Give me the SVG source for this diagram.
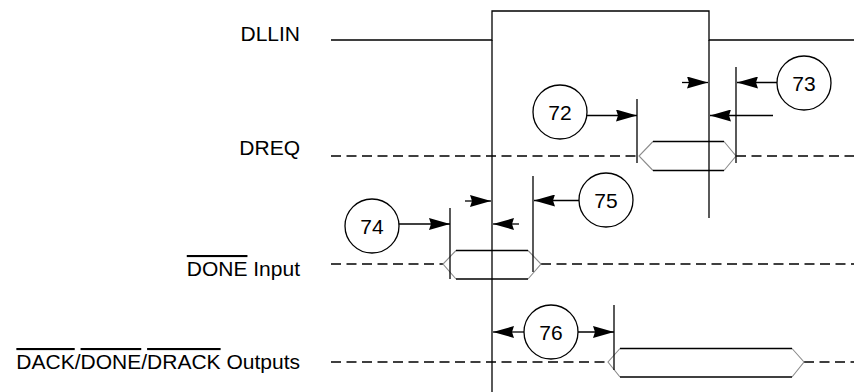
<svg xmlns="http://www.w3.org/2000/svg" width="854" height="392" viewBox="0 0 854 392">
<style>
.s{fill:none;stroke:#000;stroke-width:1.3}
.d{fill:none;stroke:#000;stroke-width:1.5;stroke-dasharray:10 5.5}
.g{fill:none;stroke:#8c8c8c;stroke-width:1.1}
.a{fill:none;stroke:#000;stroke-width:1.3;marker-end:url(#ah)}
.lbl{font-family:"Liberation Sans",Arial,sans-serif;font-size:21px;fill:#000;text-anchor:end}
.num{font-family:"Liberation Sans",Arial,sans-serif;font-size:21px;fill:#000;text-anchor:middle}
.c{fill:#fff;stroke:#000;stroke-width:1.3}
.ov{text-decoration:overline}
</style>
<defs>
<marker id="ah" viewBox="0 0 21 12" markerWidth="21" markerHeight="12" refX="21" refY="6" orient="auto" markerUnits="userSpaceOnUse">
<path d="M0,0 L21,6 L0,12 L2,6 Z" fill="#000"/>
</marker>
</defs>

<g id="labels">
<text class="lbl" x="300" y="41">DLLIN</text>
<text class="lbl" x="300" y="155">DREQ</text>
<text class="lbl" x="300" y="276"><tspan class="ov">DONE</tspan> Input</text>
<text class="lbl" x="300" y="369"><tspan class="ov">DACK</tspan>/<tspan class="ov">DONE</tspan>/<tspan class="ov">DRACK</tspan> Outputs</text>
</g>

<g id="dllin">
<polyline class="s" points="331,40 492,40 492,11 709,11 709,40 854,40"/>
<line class="s" x1="492" y1="40" x2="492" y2="392"/>
<line class="s" x1="709" y1="40" x2="709" y2="218"/>
</g>

<g id="dreq">
<line class="d" x1="331" y1="156" x2="639" y2="156"/>
<line class="d" x1="736" y1="156" x2="854" y2="156"/>
<polyline class="g" points="653,141.5 639,156 653,170.5"/>
<polyline class="g" points="724,141.5 736,156 724,170.5"/>
<line class="s" x1="653" y1="141.5" x2="724" y2="141.5"/>
<line class="s" x1="653" y1="170.5" x2="724" y2="170.5"/>
<line class="s" x1="637" y1="99" x2="637" y2="163"/>
<line class="s" x1="736" y1="67" x2="736" y2="163"/>
</g>

<g id="done-input">
<line class="d" x1="331" y1="264" x2="443" y2="264"/>
<line class="d" x1="541" y1="264" x2="854" y2="264"/>
<polyline class="g" points="456,250.5 443,264 456,279"/>
<polyline class="g" points="528,250.5 541,264 528,279"/>
<line class="s" x1="456" y1="250.5" x2="528" y2="250.5"/>
<line class="s" x1="456" y1="279" x2="528" y2="279"/>
<line class="s" x1="450" y1="208" x2="450" y2="279"/>
<line class="s" x1="533" y1="176" x2="533" y2="272"/>
</g>

<g id="outputs">
<line class="d" x1="331" y1="362" x2="608" y2="362"/>
<line class="d" x1="804" y1="362" x2="854" y2="362"/>
<polyline class="g" points="620,348.5 608,362 620,377"/>
<polyline class="g" points="792,348.5 804,362 792,377"/>
<line class="s" x1="620" y1="348.5" x2="792" y2="348.5"/>
<line class="s" x1="620" y1="377" x2="792" y2="377"/>
<line class="s" x1="614" y1="305" x2="614" y2="370"/>
</g>

<g id="connectors">
<line class="a" x1="587" y1="115.5" x2="637" y2="115.5"/>
<line class="a" x1="682" y1="82.5" x2="708" y2="82.5"/>
<line class="a" x1="777" y1="82.5" x2="737" y2="82.5"/>
<line class="a" x1="773" y1="115.5" x2="710" y2="115.5"/>
<line class="a" x1="399" y1="224" x2="450" y2="224"/>
<line class="a" x1="465" y1="201" x2="491" y2="201"/>
<line class="a" x1="519" y1="224" x2="493" y2="224"/>
<line class="a" x1="579" y1="200.5" x2="534" y2="200.5"/>
<line class="a" x1="524" y1="332" x2="493" y2="332"/>
<line class="a" x1="578" y1="332" x2="614" y2="332"/>
</g>

<g id="n72"><circle class="c" cx="560" cy="112" r="27"/><text class="num" x="560" y="119.5">72</text></g>
<g id="n73"><circle class="c" cx="804" cy="83" r="27"/><text class="num" x="804" y="90.5">73</text></g>
<g id="n74"><circle class="c" cx="372" cy="226" r="27"/><text class="num" x="372" y="233.5">74</text></g>
<g id="n75"><circle class="c" cx="606" cy="200" r="27"/><text class="num" x="606" y="207.5">75</text></g>
<g id="n76"><circle class="c" cx="551" cy="332" r="27"/><text class="num" x="551" y="339.5">76</text></g>
</svg>
